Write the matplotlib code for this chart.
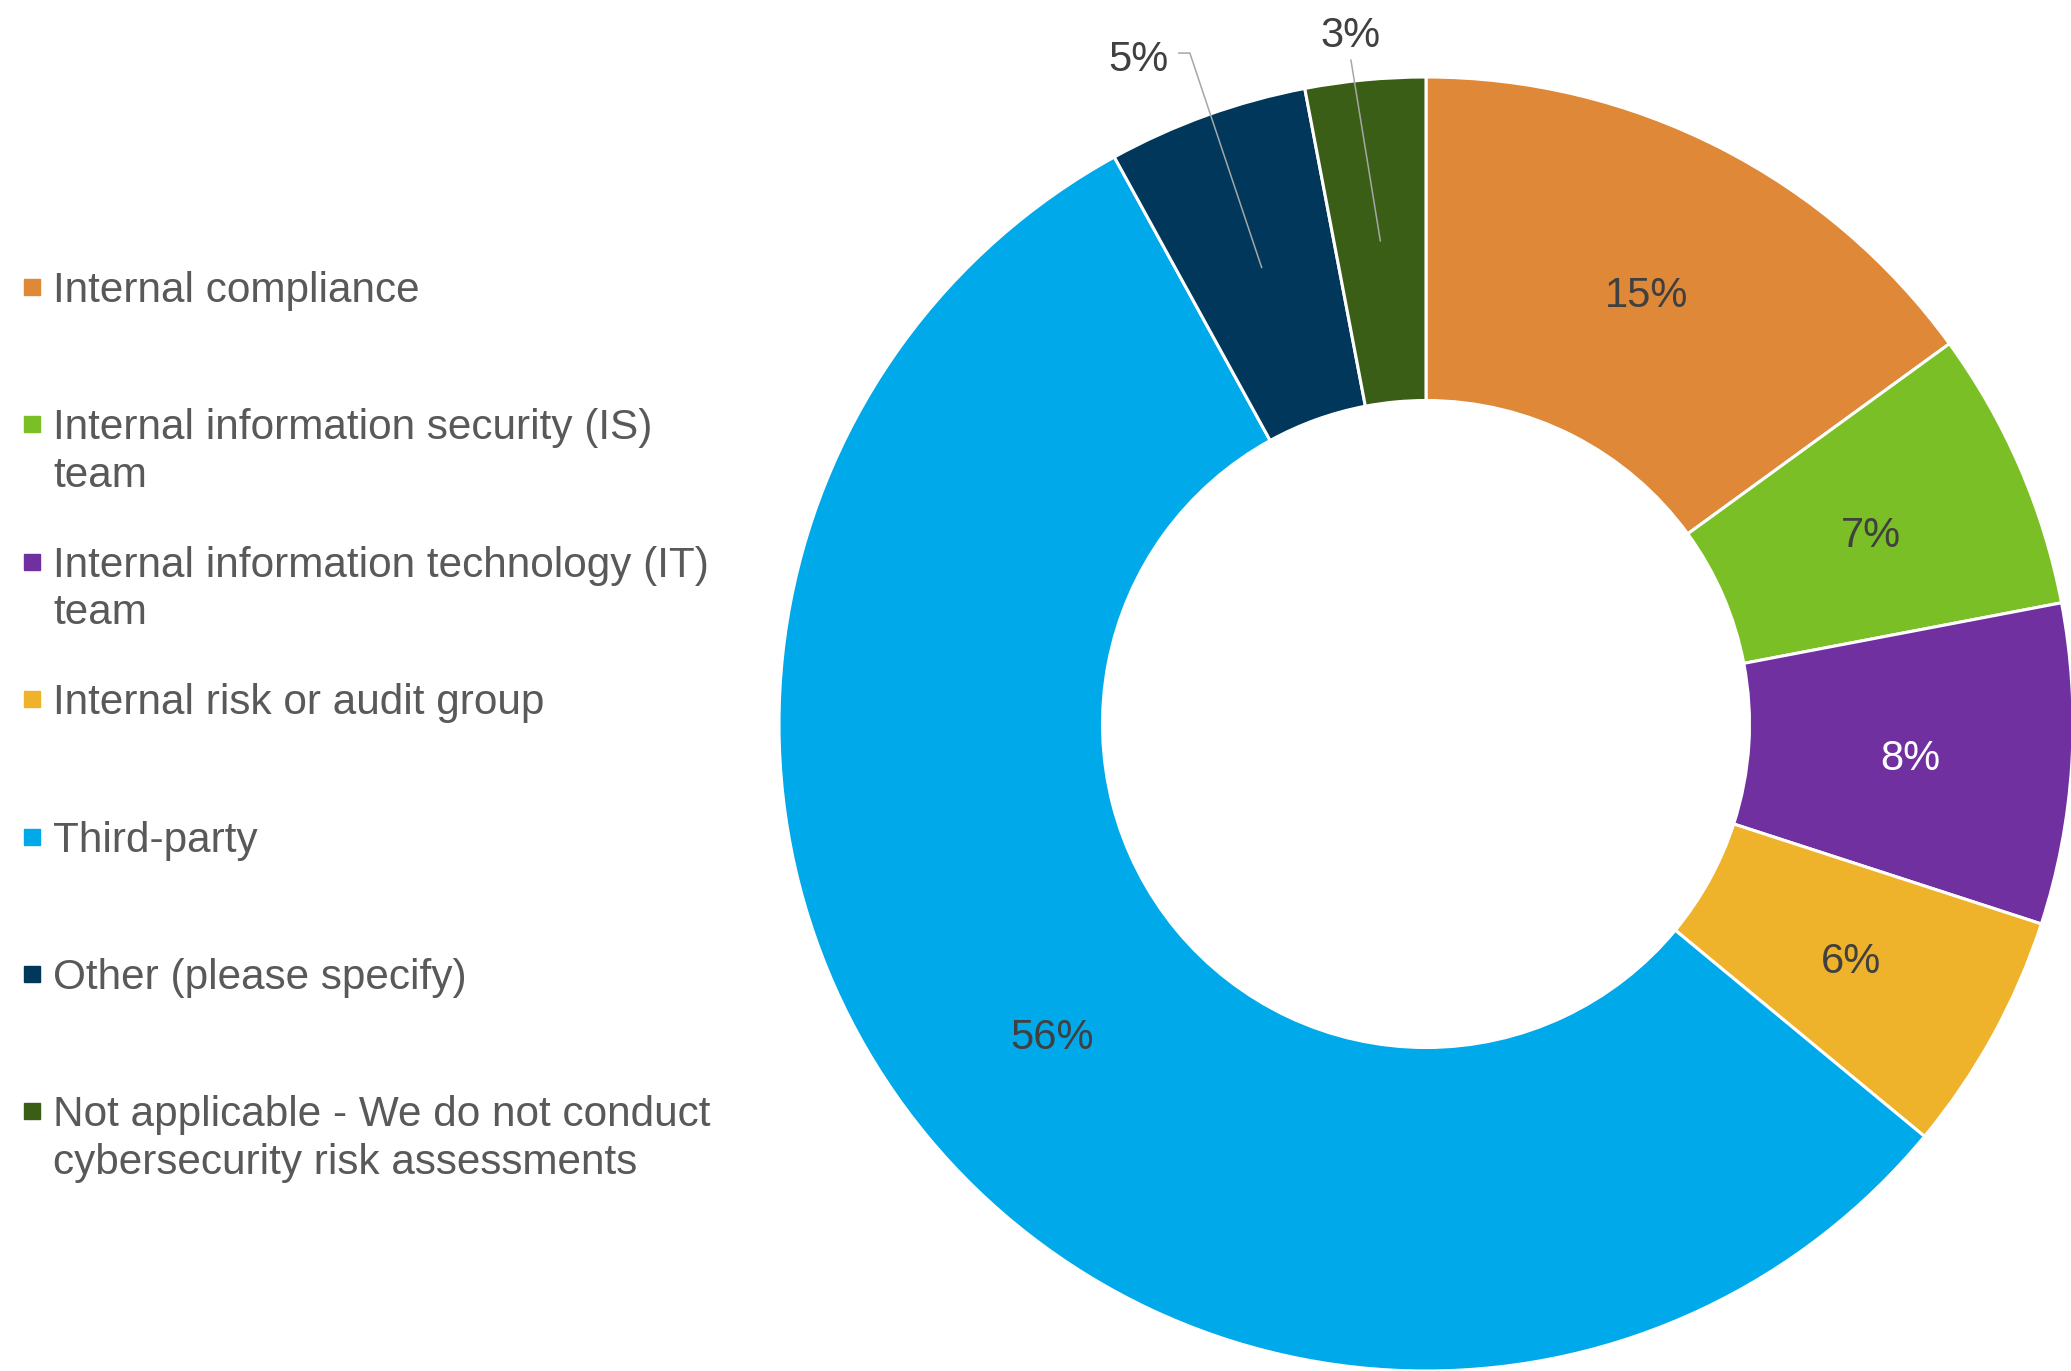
import matplotlib.pyplot as plt
import matplotlib.patches as mpatches
import numpy as np

plt.rcParams['font.family'] = ['Liberation Sans', 'DejaVu Sans']

categories = [
    'Internal compliance',
    'Internal information security (IS)\nteam',
    'Internal information technology (IT)\nteam',
    'Internal risk or audit group',
    'Third-party',
    'Other (please specify)',
    'Not applicable - We do not conduct\ncybersecurity risk assessments',
]
shares = [15, 7, 8, 6, 56, 5, 3]
colors = ['#DE8838', '#7ABF26', '#7030A0', '#EFB32B', '#00A9EA', '#00375A', '#3B5E16']
label_colors = ['#404040', '#404040', 'white', '#404040', '#404040', '#404040', '#404040']

W, H = 2071, 1371
fig = plt.figure(figsize=(W / 100, H / 100), dpi=100)

# donut: centre and radius in pixels
cx, cy, R = 1426, 724, 647
ax = fig.add_axes([(cx - R) / W, (H - cy - R) / H, 2 * R / W, 2 * R / H])
wedges, _ = ax.pie(shares, colors=colors, startangle=90, counterclock=False,
                   radius=1.0, wedgeprops=dict(width=0.5, edgecolor='white', linewidth=2.2))
ax.set_xlim(-1, 1)
ax.set_ylim(-1, 1)
ax.axis('off')
for w in wedges:
    w.set_clip_on(False)

r_lab = 0.75
# small slices get their labels pulled outside with a leader line
outside = {5: ((-0.445, 1.034), [(-0.382, 1.037), (-0.365, 1.037)]),
           6: ((-0.117, 1.070), [(-0.116, 1.026)])}
for i, w in enumerate(wedges):
    mid = np.deg2rad((w.theta1 + w.theta2) / 2)
    mx, my = r_lab * np.cos(mid), r_lab * np.sin(mid)
    txt = f'{shares[i]}%'
    if i in outside:
        (lx, ly), pts = outside[i]
        xs = [p[0] for p in pts] + [mx]
        ys = [p[1] for p in pts] + [my]
        ax.plot(xs, ys, color='#A6A6A6', lw=1.1, clip_on=False, zorder=5)
        ax.text(lx, ly, txt, ha='center', va='center_baseline', fontsize=30,
                color=label_colors[i], clip_on=False)
    else:
        ax.text(mx, my, txt, ha='center', va='center_baseline', fontsize=30,
                color=label_colors[i])

# legend on the left, one entry every ~137 px, wrapped lines ~47 px apart
for i, (lab, c) in enumerate(zip(categories, colors)):
    base = 302 + i * 137.4
    fig.add_artist(mpatches.Rectangle((24 / W, 1 - (base - 7) / H), 16 / W, 16 / H,
                                      transform=fig.transFigure, color=c))
    for j, line in enumerate(lab.split('\n')):
        fig.text(53 / W, 1 - (base + j * 47.5) / H, line, fontsize=30.4,
                 color='#595959', ha='left', va='baseline')

fig.savefig('out.png', dpi=100)
